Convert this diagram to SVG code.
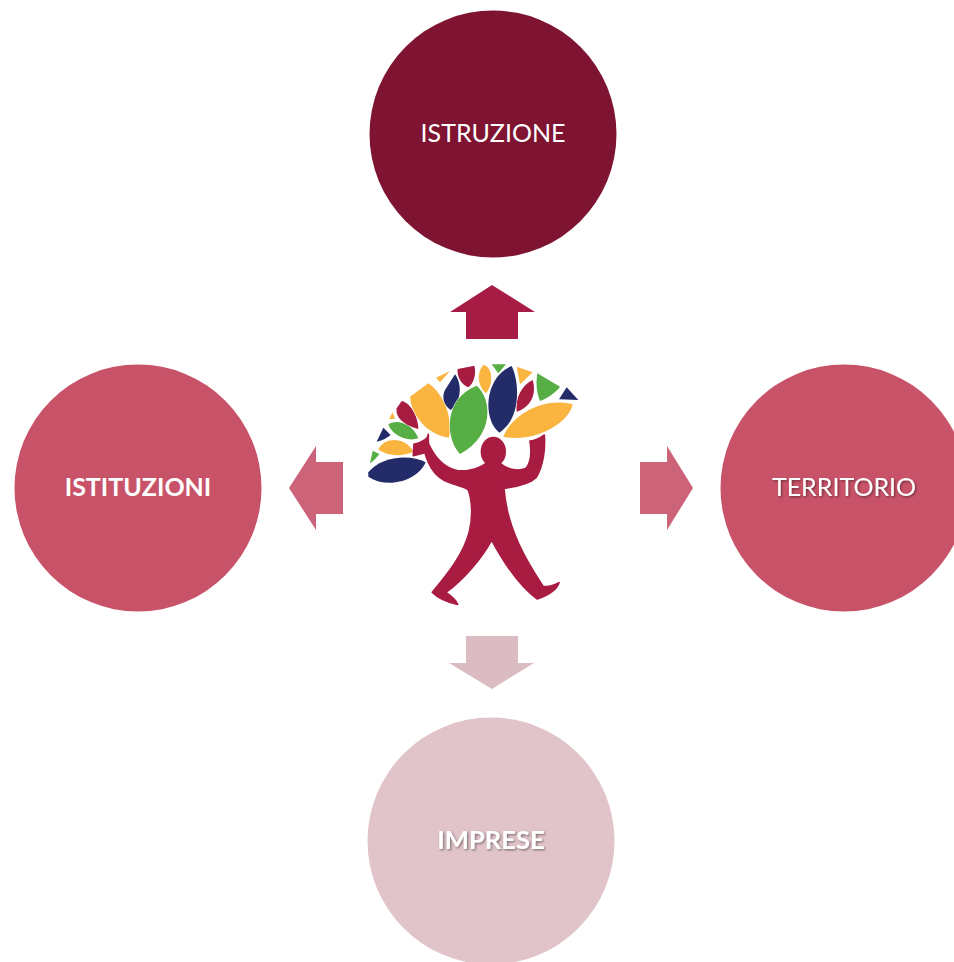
<svg xmlns="http://www.w3.org/2000/svg" width="954" height="962" viewBox="0 0 954 962">
<style>
text{font-family:"Lato","Open Sans",sans-serif;font-size:25px;fill:#fff;text-anchor:middle}
.b{font-weight:700}
.s{filter:url(#sh)}
.o{fill:#f9b53f}.n{fill:#232c69}.g{fill:#57ae45}.r{fill:#a91c42}
.l path{stroke:#fff;stroke-width:3;paint-order:stroke}
.f{stroke:#a91c42;stroke-width:5;stroke-linejoin:round}
</style>
<defs><filter id="sh" x="-10%" y="-30%" width="120%" height="160%"><feDropShadow dx="1.2" dy="1.2" stdDeviation="0.8" flood-color="#000" flood-opacity="0.45"/></filter></defs>
<rect width="954" height="962" fill="#fff"/>
<g id="connectors">
<path fill="#a61c44" d="M492 285L535 312H518V339H466V312H450Z"/>
<path fill="#cc6379" d="M289 488L316 446V462H343V514H316V530Z"/>
<path fill="#cc6379" d="M693 488L667 446V462H640V514H667V530Z"/>
<path fill="#dbbcc2" d="M492 689L449 663H466V636H518V663H534Z"/>
</g>
<g id="istruzione"><circle cx="493" cy="134" r="123.5" fill="#7e1431"/><text x="493" y="142">ISTRUZIONE</text></g>
<g id="istituzioni"><circle cx="138" cy="488" r="123.5" fill="#c85369"/><text class="b" x="138" y="496">ISTITUZIONI</text></g>
<g id="territorio"><circle cx="844" cy="488" r="123.5" fill="#c85369"/><text class="s" x="844" y="496">TERRITORIO</text></g>
<g id="imprese"><circle cx="491" cy="841" r="123.5" fill="#e0c4c9"/><text class="b s" x="491" y="849" style="font-size:25.6px">IMPRESE</text></g>
<g id="logo" transform="translate(360 355) scale(.33333)">
<g class="l">
<path class="n" d="M25 352C60 305 150 295 197 322C175 375 85 405 25 365Z"/>
<path class="g" d="M30 325L38 287L58 297C50 308 40 318 30 325Z"/>
<path class="o" d="M55 283C75 245 135 245 160 290C130 305 80 305 55 283Z"/>
<path class="n" d="M50 260L70 218L92 240C80 250 65 257 50 260Z"/>
<path class="g" d="M85 208C115 190 160 210 175 250C140 262 95 240 85 208Z"/>
<path class="o" d="M87 192L98 172L105 192Z"/>
<path class="r" d="M110 160L125 138C155 145 175 190 175 222C145 215 105 195 110 160Z"/>
<path class="o" d="M150 125L205 85C250 115 280 190 267 248C205 240 155 185 150 125Z"/>
<path class="o" d="M228 68L270 48L240 82Z"/>
<path class="n" d="M255 105L285 58C308 90 303 140 272 165C250 150 245 125 255 105Z"/>
<path class="r" d="M293 42L343 32C350 60 340 85 325 97C305 90 290 65 293 42Z"/>
<path class="o" d="M370 30C400 35 400 90 378 115C352 95 350 50 370 30Z"/>
<path class="g" d="M350 92C395 130 405 240 300 297C255 250 250 130 350 92Z"/>
<path class="g" d="M395 28L438 28L415 55Z"/>
<path class="o" d="M470 35L518 52L480 88Z"/>
<path class="r" d="M518 75C530 115 515 155 470 170C465 130 485 90 518 75Z"/>
<path class="n" d="M455 33C478 80 485 190 418 233C365 190 375 65 455 33Z"/>
<path class="g" d="M532 55L600 95C585 115 560 130 540 138C528 110 528 80 532 55Z"/>
<path class="n" d="M620 97L655 135L597 133Z"/>
<path class="o" d="M638 148C625 210 515 265 430 245C455 180 550 125 638 148Z"/>
</g>
<ellipse class="r" cx="400" cy="290" rx="38" ry="45"/>
<path class="r f" d="M205 238C205 250 195 260 162 268L160 302L195 293C205 330 225 365 262 380C290 392 315 395 325 405C338 440 338 490 328 530C310 600 260 660 217 712C235 730 265 742 293 748C285 730 270 722 258 712C310 675 365 610 395 555C430 620 480 695 532 732C560 722 590 705 597 683C580 692 565 695 550 695C500 620 440 520 432 400C470 395 510 385 528 368C550 335 556 280 553 240C540 250 525 258 510 258C515 290 515 320 498 340C475 350 445 345 420 325L378 325C350 345 310 352 285 345C250 335 225 310 205 265Z"/>
</g>
</svg>
